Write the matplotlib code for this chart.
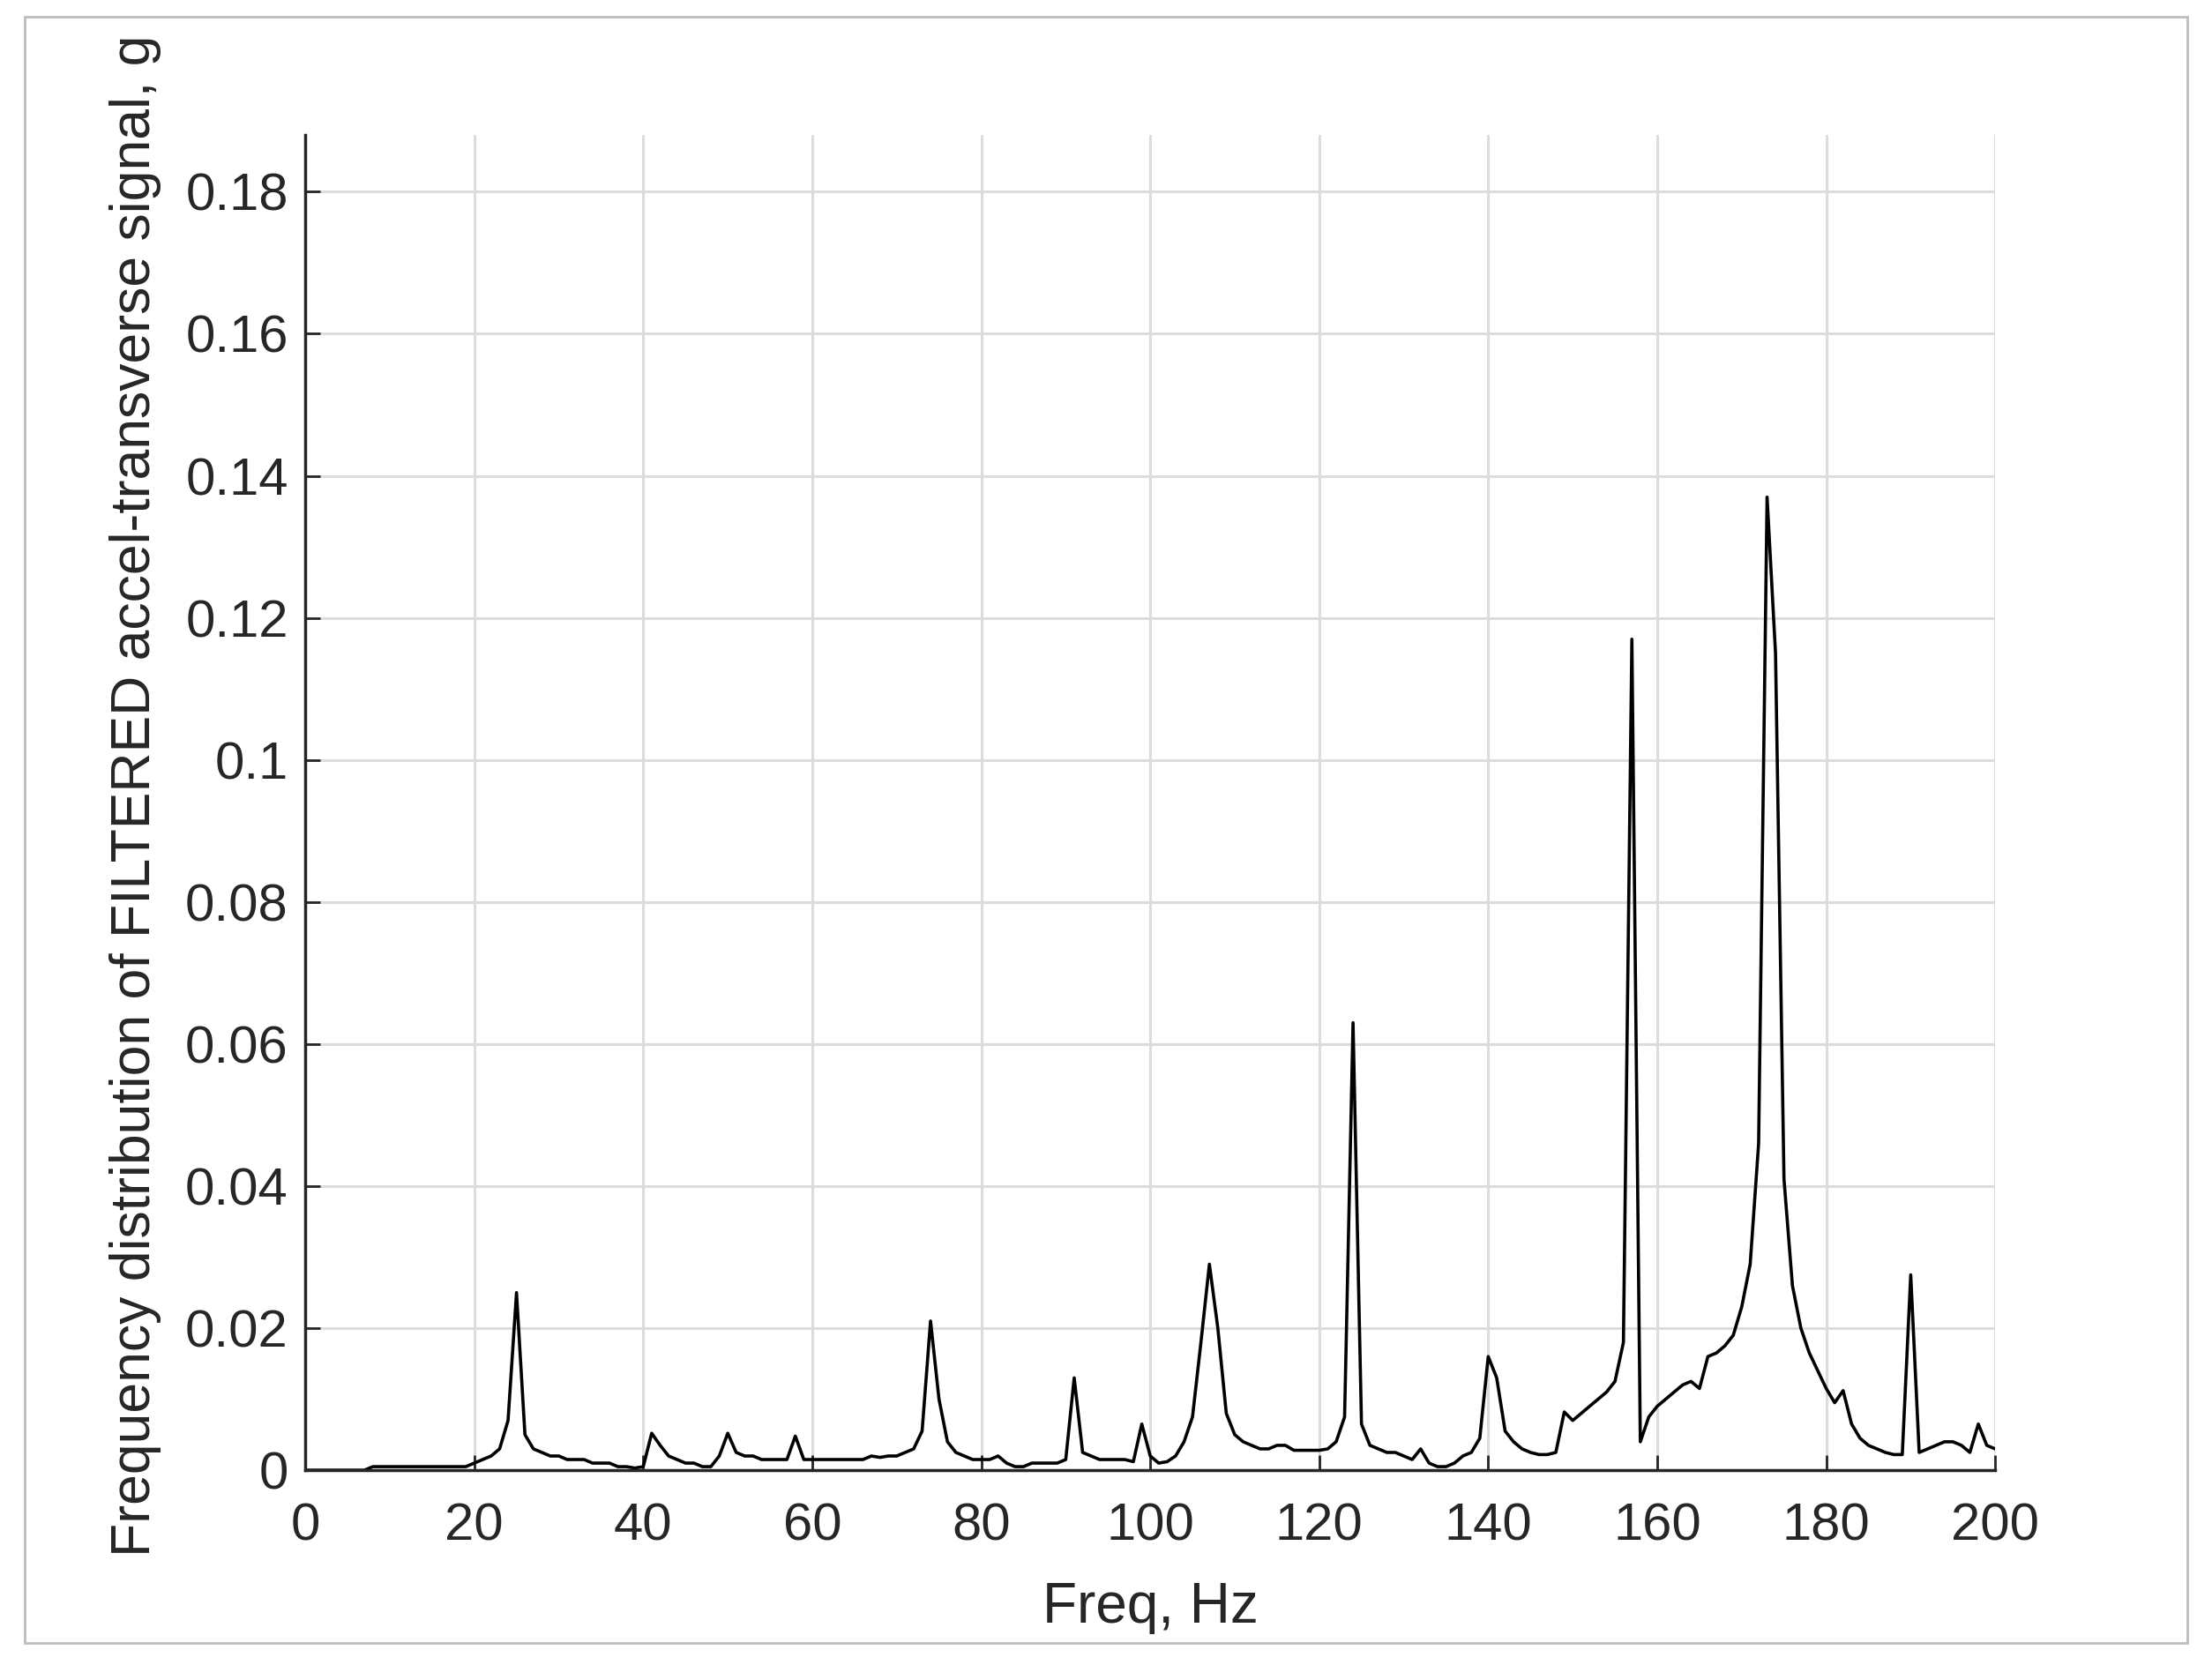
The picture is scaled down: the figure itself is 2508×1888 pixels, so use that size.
import numpy as np
import matplotlib
matplotlib.use('Agg')
import matplotlib.pyplot as plt
from matplotlib.patches import Rectangle

# spectrum amplitude, one value per Hz from 0 to 200
freq = np.arange(0, 201)
amp = [
    0, 0, 0, 0, 0, 0, 0, 0, 0.0005, 0.0005,
    0.0005, 0.0005, 0.0005, 0.0005, 0.0005, 0.0005, 0.0005, 0.0005, 0.0005, 0.0005,
    0.001, 0.0015, 0.002, 0.003, 0.007, 0.025, 0.005, 0.003, 0.0025, 0.002,
    0.002, 0.0015, 0.0015, 0.0015, 0.001, 0.001, 0.001, 0.0005, 0.0005, 0.0003,
    0.0005, 0.0052, 0.0035, 0.002, 0.0015, 0.001, 0.001, 0.0005, 0.0005, 0.002,
    0.0052, 0.0025, 0.002, 0.002, 0.0015, 0.0015, 0.0015, 0.0015, 0.0048, 0.0015,
    0.0015, 0.0015, 0.0015, 0.0015, 0.0015, 0.0015, 0.0015, 0.002, 0.0018, 0.002,
    0.002, 0.0025, 0.003, 0.0055, 0.021, 0.010, 0.004, 0.0025, 0.002, 0.0015,
    0.0015, 0.0015, 0.002, 0.001, 0.0005, 0.0005, 0.001, 0.001, 0.001, 0.001,
    0.0015, 0.013, 0.0025, 0.002, 0.0015, 0.0015, 0.0015, 0.0015, 0.0012, 0.0065,
    0.002, 0.001, 0.0012, 0.002, 0.004, 0.0075, 0.018, 0.029, 0.020, 0.008,
    0.005, 0.004, 0.0035, 0.003, 0.003, 0.0035, 0.0035, 0.0028, 0.0028, 0.0028,
    0.0028, 0.003, 0.004, 0.0075, 0.063, 0.0065, 0.0035, 0.003, 0.0025, 0.0025,
    0.002, 0.0015, 0.003, 0.001, 0.0005, 0.0005, 0.001, 0.002, 0.0025, 0.0045,
    0.016, 0.013, 0.0055, 0.004, 0.003, 0.0025, 0.0022, 0.0022, 0.0025, 0.0082,
    0.007, 0.008, 0.009, 0.010, 0.011, 0.0125, 0.018, 0.117, 0.004, 0.0075,
    0.009, 0.010, 0.011, 0.012, 0.0125, 0.0115, 0.016, 0.0165, 0.0175, 0.019,
    0.023, 0.029, 0.046, 0.137, 0.115, 0.041, 0.026, 0.020, 0.0165, 0.014,
    0.0115, 0.0095, 0.0112, 0.0065, 0.0045, 0.0035, 0.003, 0.0025, 0.0022, 0.0022,
    0.0275, 0.0025, 0.003, 0.0035, 0.004, 0.004, 0.0035, 0.0025, 0.0065, 0.0035,
    0.003,
]
xticks = np.arange(0, 201, 20)
yticks = np.arange(0, 0.181, 0.02)
ytick_labels = ['0', '0.02', '0.04', '0.06', '0.08', '0.1', '0.12', '0.14', '0.16', '0.18']

plt.rcParams['font.family'] = ['Liberation Sans', 'DejaVu Sans']

fig = plt.figure(figsize=(25.08, 18.88), dpi=100)
ax = fig.add_axes([0.138, 0.117, 0.764, 0.802])

ax.plot(freq, amp, color='black', lw=2.6)
ax.set_xlim(0, 200)
ax.set_ylim(0, 0.188)
ax.set_xticks(xticks)
ax.set_yticks(yticks)
ax.set_yticklabels(ytick_labels)
ax.grid(True, color='#dcdcdc', lw=2.2)
ax.set_axisbelow(True)
for s in ['top', 'right']:
    ax.spines[s].set_visible(False)
for s in ['left', 'bottom']:
    ax.spines[s].set_linewidth(2.5)
    ax.spines[s].set_color('#262626')
ax.tick_params(direction='in', length=12, width=2, labelsize=43, colors='#262626')
ax.tick_params(axis='x', pad=26)
ax.tick_params(axis='y', pad=14)
ax.set_xlabel('Freq, Hz', fontsize=46, color='#262626')
ax.xaxis.set_label_coords(0.5, -0.083)
ax.set_ylabel('Frequency distribution of FILTERED accel-transverse signal, g',
              fontsize=45, color='#262626')
ax.yaxis.set_label_coords(-0.085, 0.505)

fig.patches.append(Rectangle((0.011, 0.013), 0.978, 0.977, transform=fig.transFigure,
                             fill=False, edgecolor='#bdbdbd', lw=2))

fig.savefig('out.png', dpi=100)
